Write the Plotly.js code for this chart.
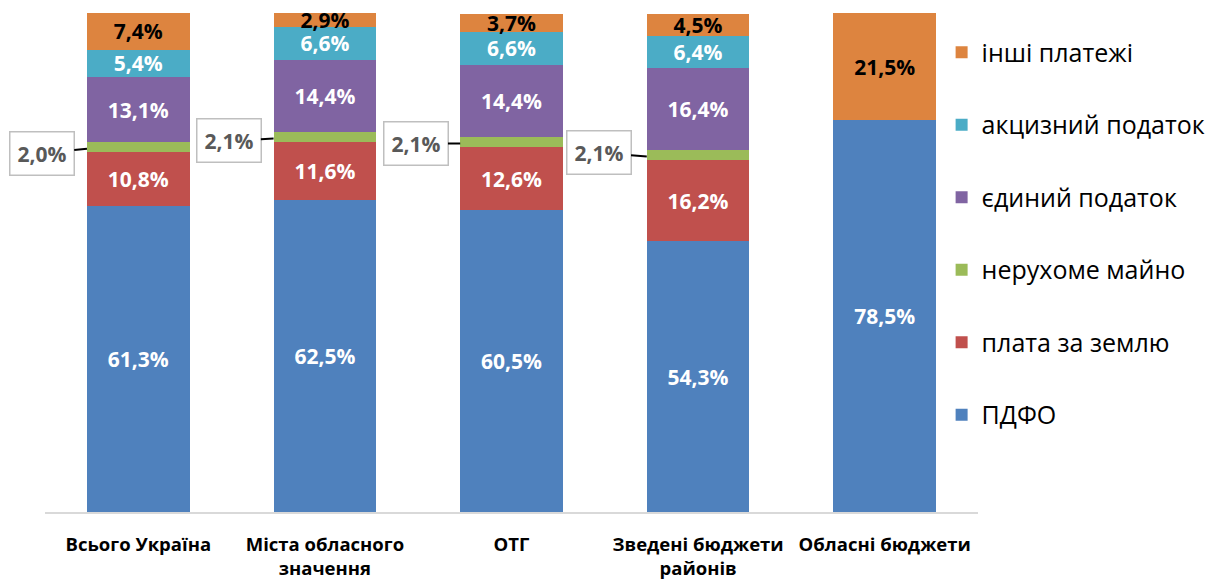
<!DOCTYPE html>
<html>
<head>
<meta charset="utf-8">
<script src="https://cdn.plot.ly/plotly-3.0.1.min.js"></script>
<style>html,body{margin:0;padding:0;background:#fff;}#chart{width:1227px;height:581px;}</style>
</head>
<body>
<div id="chart"></div>
<script>
const categories = ["Всього Україна", "Міста обласного<br>значення", "ОТГ", "Зведені бюджети<br>районів", "Обласні бюджети"];
const pdfo     = [61.3, 62.5, 60.5, 54.3, 78.5];
const zemlya   = [10.8, 11.6, 12.6, 16.2, 0];
const mayno    = [2.0, 2.1, 2.1, 2.1, 0];
const yedynyi  = [13.1, 14.4, 14.4, 16.4, 0];
const aktsyz   = [5.4, 6.6, 6.6, 6.4, 0];
const inshi    = [7.4, 2.9, 3.7, 4.5, 21.5];
const seriesNames = ["ПДФО", "плата за землю", "нерухоме майно", "єдиний податок", "акцизний податок", "інші платежі"];

const colors = ["#4F81BD", "#C0504D", "#9BBB59", "#8064A2", "#4BACC6", "#DD843F"];
const FONT = "Open Sans, sans-serif";
const fmt = v => v > 0 ? v.toFixed(1).replace('.', ',') + '%' : '';

const seriesVals = [pdfo, zemlya, mayno, yedynyi, aktsyz, inshi];
const labelColors = ["#FFFFFF", "#FFFFFF", "#FFFFFF", "#FFFFFF", "#FFFFFF", "#000000"];
const x = categories.map((c, i) => i);

const traces = seriesVals.map((vals, s) => ({
  type: 'bar',
  name: seriesNames[s],
  x: x,
  y: vals,
  legendgroup: 'g' + s,
  legendrank: seriesVals.length - s,
  marker: {color: colors[s], line: {width: 0}},
  text: s === 2 ? vals.map(() => '') : vals.map(fmt),
  textposition: 'inside',
  insidetextanchor: 'middle',
  textangle: 0,
  constraintext: 'none',
  textfont: {family: FONT, size: 21, color: labelColors[s], weight: 'bold'},
  hoverinfo: 'skip'
}));

// callouts for "нерухоме майно"
const calloutOffsets = [[-45, 4.5], [-45, 2], [-44.5, 0], [-48, -4]];
const annotations = calloutOffsets.map((o, i) => ({
  x: i - 0.275,
  y: pdfo[i] + zemlya[i] + mayno[i] * 0.35,
  xref: 'x', yref: 'y',
  text: fmt(mayno[i]),
  showarrow: true,
  arrowhead: 0,
  arrowwidth: 2,
  arrowcolor: '#000000',
  standoff: 0,
  ax: o[0], ay: o[1],
  bordercolor: '#BFBFBF',
  borderwidth: 1.5,
  borderpad: 7,
  bgcolor: '#FFFFFF',
  font: {family: FONT, size: 21, color: '#595959', weight: 'bold'}
}));

const layout = {
  width: 1227, height: 581,
  margin: {l: 45, r: 249, t: 13, b: 69},
  paper_bgcolor: '#FFFFFF', plot_bgcolor: '#FFFFFF',
  barmode: 'stack',
  bargap: 0.45,
  showlegend: true,
  legend: {
    x: 0.961, xanchor: 'left', y: 0.967, yanchor: 'top',
    traceorder: 'grouped',
    tracegroupgap: 37,
    font: {family: FONT, size: 25, color: '#000000'},
    bgcolor: 'rgba(0,0,0,0)'
  },
  xaxis: {
    type: 'linear',
    range: [-0.5, 4.5],
    tickvals: x,
    ticktext: categories,
    showline: true, linecolor: '#D9D9D9', linewidth: 1.5,
    showgrid: false, zeroline: false,
    ticks: '', ticklabelstandoff: 15,
    tickfont: {family: FONT, size: 18.5, color: '#000000', weight: 'bold'}
  },
  yaxis: {range: [0, 100], visible: false, showgrid: false, zeroline: false},
  annotations: annotations
};

Plotly.newPlot('chart', traces, layout, {displayModeBar: false, staticPlot: true});
</script>
</body>
</html>
